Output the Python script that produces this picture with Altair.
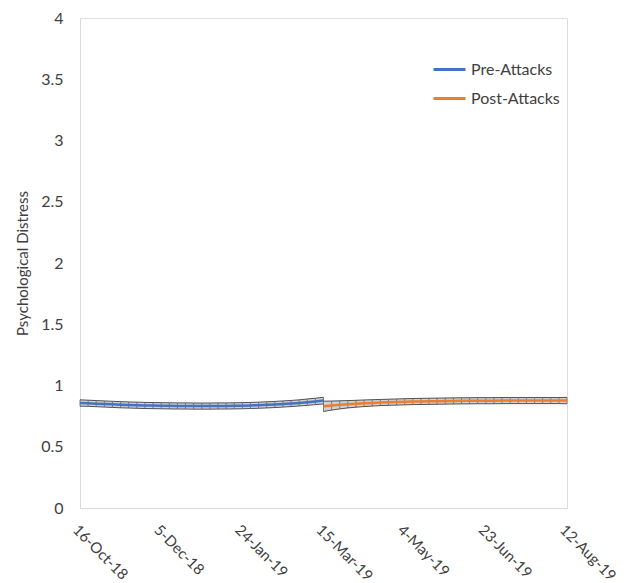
import altair as alt
import pandas as pd

# Five-day sampling of the two periods (pre: 16-Oct-18 to 15-Mar-19, post: 15-Mar-19 to 12-Aug-19)
pre_dates = pd.date_range("2018-10-16", "2019-03-15", freq="5D")
post_dates = pd.date_range("2019-03-15", "2019-08-12", freq="5D")

pre_values = [0.857, 0.855, 0.852, 0.849, 0.846, 0.843, 0.841, 0.839, 0.837, 0.836,
              0.835, 0.834, 0.833, 0.833, 0.832, 0.832, 0.832, 0.833, 0.833, 0.834,
              0.835, 0.837, 0.839, 0.842, 0.845, 0.849, 0.853, 0.858, 0.864, 0.870, 0.877]
pre_errors = [0.026, 0.025, 0.025, 0.025, 0.025, 0.025, 0.025, 0.025, 0.025, 0.025,
              0.025, 0.025, 0.025, 0.025, 0.025, 0.025, 0.025, 0.025, 0.025, 0.025,
              0.025, 0.025, 0.025, 0.025, 0.025, 0.025, 0.025, 0.025, 0.026, 0.026, 0.027]

post_values = [0.830, 0.836, 0.842, 0.847, 0.851, 0.855, 0.858, 0.861, 0.863, 0.865,
               0.867, 0.869, 0.870, 0.871, 0.872, 0.873, 0.874, 0.875, 0.875, 0.876,
               0.876, 0.876, 0.877, 0.877, 0.877, 0.877, 0.877, 0.877, 0.877, 0.877, 0.877]
post_errors = [0.042, 0.037, 0.033, 0.030, 0.028, 0.027, 0.026, 0.025, 0.025, 0.025,
               0.025, 0.025, 0.025, 0.025, 0.025, 0.025, 0.025, 0.025, 0.025, 0.025,
               0.025, 0.025, 0.025, 0.025, 0.025, 0.025, 0.025, 0.025, 0.025, 0.025, 0.026]

series_names = ["Pre-Attacks", "Post-Attacks"]
series_colors = ["#4472C4", "#ED7D31"]
y_ticks = [0, 0.5, 1, 1.5, 2, 2.5, 3, 3.5, 4]
x_tick_dates = [(2018, 10, 16), (2018, 12, 5), (2019, 1, 24), (2019, 3, 15),
                (2019, 5, 4), (2019, 6, 23), (2019, 8, 12)]

rows = []
for name, dates, vals, errs in [
    (series_names[0], pre_dates, pre_values, pre_errors),
    (series_names[1], post_dates, post_values, post_errors),
]:
    for d, v, e in zip(dates, vals, errs):
        rows.append({"date": d.strftime("%Y-%m-%d"), "series": name, "value": v, "err": e})
df = pd.DataFrame(rows)

FONT = "Lato"
TEXT = "#404040"

x_enc = alt.X(
    "date:T",
    title=None,
    scale=alt.Scale(type="utc",
                    domain=[alt.DateTime(year=2018, month=10, date=16, utc=True),
                            alt.DateTime(year=2019, month=8, date=12, utc=True)]),
    axis=alt.Axis(
        values=[alt.DateTime(year=y, month=m, date=d, utc=True) for y, m, d in x_tick_dates],
        labelExpr="utcFormat(datum.value, '%-d-%b-%y')",
        labelAngle=45, labelAlign="left", labelBaseline="top",
        labelPadding=14, ticks=False, grid=False,
        domainColor="#d9d9d9", labelFontSize=15, labelColor=TEXT, labelFont=FONT,
        labelOverlap=False, labelFlush=False,
    ),
)

y_scale = alt.Scale(domain=[0, 4], nice=False)
y_axis = alt.Axis(values=y_ticks, format="~g", ticks=False, grid=False,
                  domainColor="#d9d9d9", labelPadding=17, labelFontSize=16,
                  labelColor=TEXT, labelFont=FONT, title="Psychological Distress",
                  titleFontSize=15, titleFont=FONT, titleColor=TEXT,
                  titleFontWeight="normal", titlePadding=10)

base = alt.Chart(df).transform_calculate(
    lo="datum.value - datum.err", hi="datum.value + datum.err"
)

band = base.mark_area(color="#b4b4b4", opacity=0.6).encode(
    x=x_enc, y=alt.Y("lo:Q", scale=y_scale, axis=y_axis), y2="hi:Q", detail="series:N"
)

bars = base.mark_rule(color="#7a7a7a", strokeWidth=1).encode(
    x=x_enc, y=alt.Y("lo:Q", scale=y_scale, axis=y_axis), y2="hi:Q"
)

cap_hi = base.mark_line(color="#505050", strokeWidth=1).encode(
    x=x_enc, y=alt.Y("hi:Q", scale=y_scale, axis=y_axis), detail="series:N"
)
cap_lo = base.mark_line(color="#505050", strokeWidth=1).encode(
    x=x_enc, y=alt.Y("lo:Q", scale=y_scale, axis=y_axis), detail="series:N"
)

lines = base.mark_line(strokeWidth=2.5).encode(
    x=x_enc,
    y=alt.Y("value:Q", scale=y_scale, axis=y_axis),
    color=alt.Color(
        "series:N",
        scale=alt.Scale(domain=series_names, range=series_colors),
        legend=alt.Legend(
            title=None, orient="none", legendX=352, legendY=34,
            symbolType="stroke", symbolSize=1024, symbolStrokeWidth=3,
            labelFontSize=16, labelFont=FONT, labelColor=TEXT,
            labelOffset=4, rowPadding=3, padding=0,
        ),
    ),
)

chart = alt.layer(band, bars, cap_hi, cap_lo, lines).properties(
    width=487, height=490,
    autosize=alt.AutoSizeParams(type="none"),
    padding={"left": 80, "top": 18, "right": 58, "bottom": 75},
).configure_view(stroke=None).configure(background="white")

chart.save("out.html", embed_options={"renderer": "svg", "actions": False})
